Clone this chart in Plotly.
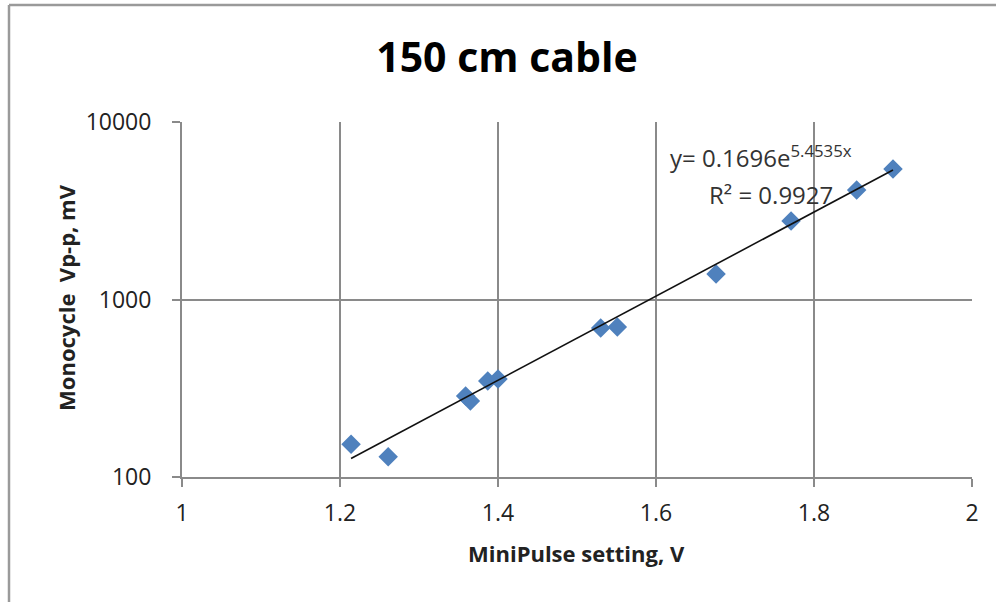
import numpy as np
import plotly.graph_objects as go

# Data
setting_v = [1.214, 1.261, 1.359, 1.365, 1.387, 1.400, 1.530, 1.551, 1.676, 1.771, 1.854, 1.900]
vpp_mv = [153, 130, 286, 268, 347, 357, 690, 700, 1393, 2767, 4141, 5433]

# Trendline equation shown on chart
fit_a = 0.1696
fit_k = 5.4535
fit_r2 = 0.9927

x_ticks = [1, 1.2, 1.4, 1.6, 1.8, 2]
x_tick_labels = ["1", "1.2", "1.4", "1.6", "1.8", "2"]
y_ticks = [100, 1000, 10000]
y_tick_labels = ["100", "1000", "10000"]

trend_x = np.linspace(min(setting_v), max(setting_v), 50)
trend_y = fit_a * np.exp(fit_k * trend_x)

FONT = "Open Sans"
GRID = "#8a8a8a"

fig = go.Figure()
fig.add_trace(go.Scatter(
    x=setting_v, y=vpp_mv, mode="markers",
    marker=dict(symbol="diamond", size=15, color="#4F81BD", line=dict(width=0)),
    showlegend=False,
))
fig.add_trace(go.Scatter(
    x=trend_x, y=trend_y, mode="lines",
    line=dict(color="#111111", width=1.6),
    showlegend=False,
))

fig.update_layout(
    width=996, height=602,
    margin=dict(l=182, r=24, t=122, b=125),
    paper_bgcolor="white", plot_bgcolor="white",
    font=dict(family=FONT, color="#222222"),
    title=dict(text="<b>150 cm cable</b>", x=0.509, xanchor="center", y=0.904, yanchor="middle",
               font=dict(family=FONT, size=41, color="#000000")),
    xaxis=dict(
        range=[1, 2], tickvals=x_ticks, ticktext=x_tick_labels,
        showgrid=True, gridcolor=GRID, gridwidth=2,
        showline=True, linecolor=GRID, linewidth=2,
        ticks="outside", ticklen=8, tickwidth=2, tickcolor=GRID,
        ticklabelstandoff=6,
        tickfont=dict(family=FONT, size=23, color="#222222"),
        zeroline=False,
    ),
    yaxis=dict(
        type="log", range=[2, 4], tickvals=y_ticks, ticktext=y_tick_labels,
        showgrid=True, gridcolor=GRID, gridwidth=2,
        showline=True, linecolor=GRID, linewidth=2,
        ticks="outside", ticklen=8, tickwidth=2, tickcolor=GRID,
        ticklabelstandoff=16,
        tickfont=dict(family=FONT, size=23, color="#222222"),
        zeroline=False,
    ),
)

# Axis titles
fig.add_annotation(text="<b>MiniPulse setting, V</b>", xref="paper", yref="paper",
                   x=0.4994, y=-0.214, xanchor="center", yanchor="middle", showarrow=False,
                   font=dict(family=FONT, size=22, color="#222222"))
fig.add_annotation(text="<b>Monocycle  Vp-p, mV</b>", xref="paper", yref="paper",
                   x=-0.147, y=0.507, xanchor="center", yanchor="middle", showarrow=False,
                   textangle=-90, font=dict(family=FONT, size=22, color="#222222"))

# Trendline equation
fig.add_annotation(text=f"y= {fit_a}e<sup>{fit_k}x</sup>", xref="paper", yref="paper",
                   x=(668 - 182) / 790, y=(477 - 156) / 355, xanchor="left", yanchor="middle",
                   showarrow=False, font=dict(family=FONT, size=24, color="#333333"))
fig.add_annotation(text=f"R² = {fit_r2}", xref="paper", yref="paper",
                   x=(707 - 182) / 790, y=(477 - 194) / 355, xanchor="left", yanchor="middle",
                   showarrow=False, font=dict(family=FONT, size=24, color="#333333"))

# Chart frame (top and left edges visible)
fig.add_shape(type="line", xref="paper", yref="paper",
              x0=(9 - 182) / 790, y0=(477 - 5) / 355, x1=(1000 - 182) / 790, y1=(477 - 5) / 355,
              line=dict(color="#9a9a9a", width=2.5))
fig.add_shape(type="line", xref="paper", yref="paper",
              x0=(9 - 182) / 790, y0=(477 - 5) / 355, x1=(9 - 182) / 790, y1=(477 - 610) / 355,
              line=dict(color="#9a9a9a", width=2.5))

fig.write_html("out.html")
